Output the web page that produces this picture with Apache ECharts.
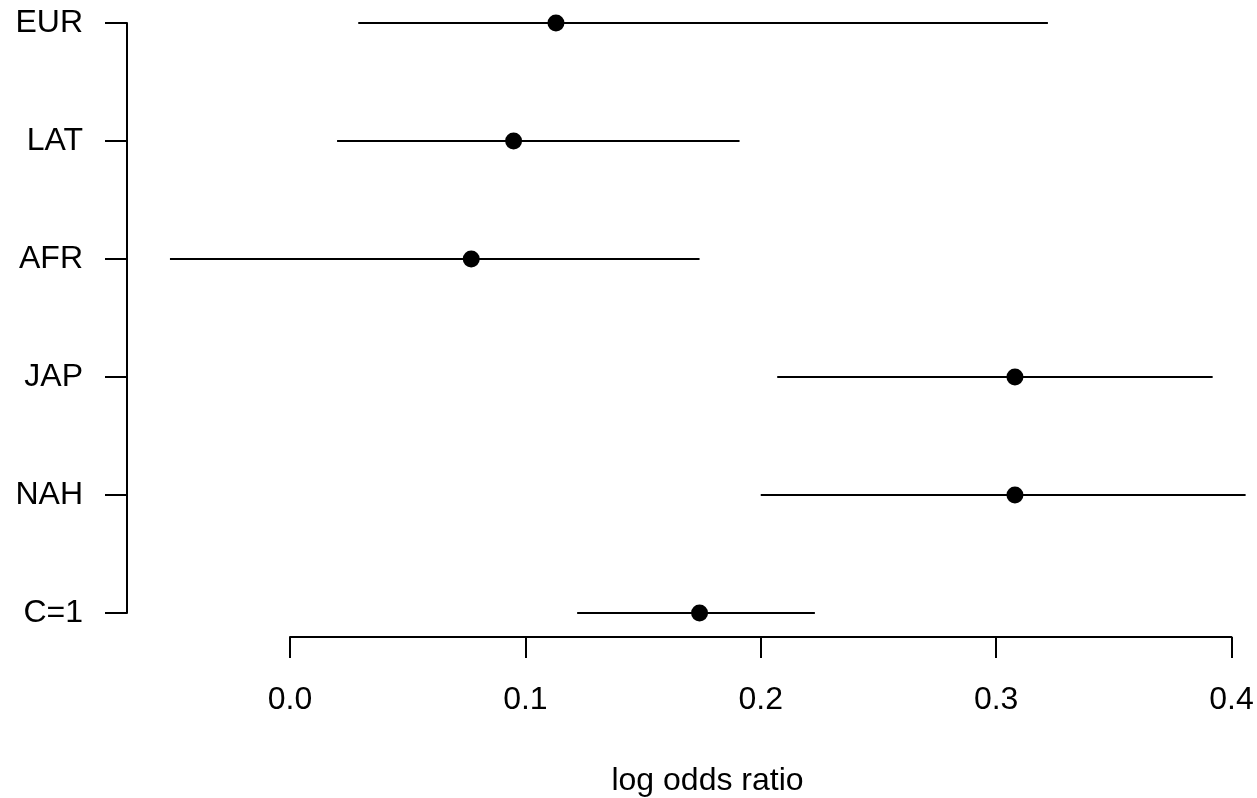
<!DOCTYPE html>
<html>
<head>
<meta charset="utf-8">
<title>log odds ratio</title>
<script src="https://cdn.jsdelivr.net/npm/echarts@6/dist/echarts.min.js"></script>
<style>
  html, body { margin: 0; padding: 0; background: #ffffff; }
  #chart { width: 1257px; height: 798px; }
</style>
</head>
<body>
<div id="chart"></div>
<script>
// Groups, bottom row first
const categories = ['C=1', 'NAH', 'JAP', 'AFR', 'LAT', 'EUR'];
// Point estimates of the log odds ratio
const estimates = [0.174, 0.308, 0.308, 0.077, 0.095, 0.113];
// Interval bounds
const lower = [0.122, 0.200, 0.207, -0.051, 0.020, 0.029];
const upper = [0.223, 0.406, 0.392, 0.174, 0.191, 0.322];
// Tick values for the horizontal axis
const xTicks = [0.0, 0.1, 0.2, 0.3, 0.4];

const FONT = '"Liberation Sans", Arial, Helvetica, sans-serif';
const INK = '#000000';

const chart = echarts.init(document.getElementById('chart'), null, { renderer: 'canvas' });

const intervalData = categories.map((c, i) => [lower[i], upper[i], i]);
const pointData = categories.map((c, i) => [estimates[i], i]);

chart.setOption({
  animation: false,
  backgroundColor: '#ffffff',
  grid: [
    // plotting region (extends past the right edge like the plot device region)
    { left: 127, top: 23, width: 1161, height: 590, outerBoundsMode: 'none', containLabel: false },
    // region carrying only the drawn horizontal axis, spanning first to last tick
    { left: 290, top: 23, width: 941.5, height: 614, outerBoundsMode: 'none', containLabel: false }
  ],
  xAxis: [
    {
      gridIndex: 0,
      type: 'value',
      min: -0.06925,
      max: 0.42401,
      axisLine: { show: false, onZero: false },
      axisTick: { show: false },
      axisLabel: { show: false },
      splitLine: { show: false },
      name: 'log odds ratio',
      nameLocation: 'middle',
      nameGap: 168,
      nameTextStyle: {
        fontFamily: FONT, fontSize: 32, color: INK, verticalAlign: 'middle'
      }
    },
    {
      gridIndex: 1,
      type: 'value',
      min: xTicks[0],
      max: xTicks[xTicks.length - 1],
      interval: 0.1,
      axisLine: { show: true, onZero: false, lineStyle: { color: INK, width: 2 } },
      axisTick: { show: true, length: 21, lineStyle: { color: INK, width: 2 } },
      axisLabel: {
        show: true, margin: 47, fontFamily: FONT, fontSize: 32, color: INK,
        formatter: v => v.toFixed(1)
      },
      splitLine: { show: false }
    }
  ],
  yAxis: [
    {
      gridIndex: 0,
      type: 'category',
      data: categories,
      boundaryGap: false,
      axisLine: { show: true, onZero: false, lineStyle: { color: INK, width: 2 } },
      axisTick: { show: true, length: 22, lineStyle: { color: INK, width: 2 } },
      axisLabel: { margin: 44, fontFamily: FONT, fontSize: 32, color: INK },
      splitLine: { show: false }
    },
    {
      gridIndex: 1,
      type: 'value',
      show: false
    }
  ],
  series: [
    {
      type: 'custom',
      name: 'interval',
      xAxisIndex: 0,
      yAxisIndex: 0,
      data: intervalData,
      encode: { x: [0, 1], y: 2 },
      renderItem: function (params, api) {
        const p0 = api.coord([api.value(0), api.value(2)]);
        const p1 = api.coord([api.value(1), api.value(2)]);
        return {
          type: 'line',
          shape: { x1: p0[0], y1: p0[1], x2: p1[0], y2: p1[1] },
          style: { stroke: INK, lineWidth: 2 }
        };
      },
      z: 2
    },
    {
      type: 'scatter',
      name: 'estimate',
      xAxisIndex: 0,
      yAxisIndex: 0,
      data: pointData,
      symbol: 'circle',
      symbolSize: 17,
      itemStyle: { color: INK, opacity: 1 },
      z: 3
    }
  ]
});
</script>
</body>
</html>
